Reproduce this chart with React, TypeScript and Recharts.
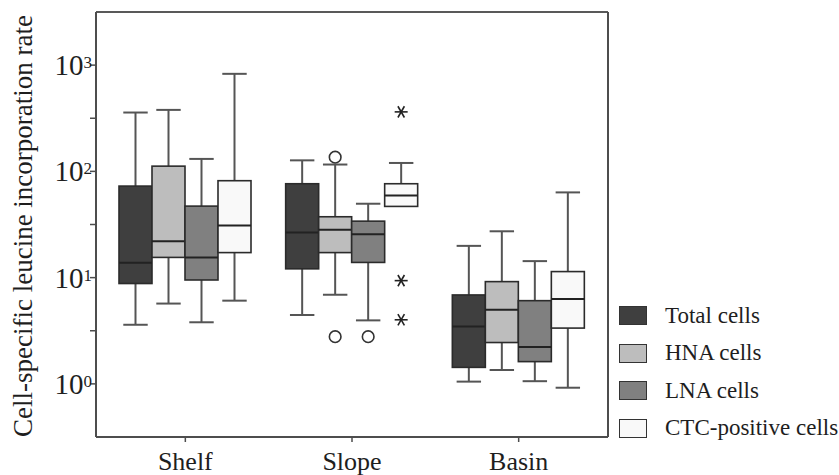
import React from 'react'
import { ComposedChart, Bar, XAxis, YAxis, Legend } from 'recharts'

// five-number summaries: [low whisker, Q1, median, Q3, high whisker]
const groups = ['Shelf', 'Slope', 'Basin']
const seriesNames = ['Total cells', 'HNA cells', 'LNA cells', 'CTC-positive cells']
const seriesKeys = ['total', 'hna', 'lna', 'ctc']
const seriesFills = ['#3f3f3f', '#bdbdbd', '#808080', '#f9f9f9']

const totalStats = [
  [3.6, 8.8, 13.8, 72.7, 358],
  [4.45, 12.1, 26.6, 76.5, 127],
  [1.05, 1.43, 3.47, 6.87, 19.9],
]
const hnaStats = [
  [5.7, 15.5, 22.0, 112, 379],
  [6.9, 17.2, 28.2, 37.4, 116],
  [1.35, 2.45, 4.99, 9.17, 27.3],
]
const lnaStats = [
  [3.8, 9.5, 15.5, 47.1, 131],
  [3.96, 13.9, 25.6, 34.0, 49.6],
  [1.06, 1.62, 2.22, 6.07, 14.3],
]
const ctcStats = [
  [6.07, 17.2, 30.9, 81.7, 828],
  [46.8, 46.8, 59.4, 76.5, 120],
  [0.92, 3.35, 6.3, 11.4, 63.4],
]

// outliers (circles) and extremes (stars), per group
const totalOutliers = [[], [], []]
const hnaOutliers = [[], [136, 2.78], []]
const lnaOutliers = [[], [2.78], []]
const ctcOutliers = [[], [], []]
const totalExtremes = [[], [], []]
const hnaExtremes = [[], [], []]
const lnaExtremes = [[], [], []]
const ctcExtremes = [[], [363, 9.37, 4.01], []]

const yTicks = [1, 3.1623, 10, 31.623, 100, 316.23, 1000]
const yDomain = [0.31623, 3162.3]

const allStats = [totalStats, hnaStats, lnaStats, ctcStats]
const allOutliers = [totalOutliers, hnaOutliers, lnaOutliers, ctcOutliers]
const allExtremes = [totalExtremes, hnaExtremes, lnaExtremes, ctcExtremes]

const data = groups.map((name, g) => {
  const row: any = { name }
  seriesKeys.forEach((k, s) => {
    const [low, q1, med, q3, high] = allStats[s][g]
    row[k] = { low, q1, med, q3, high, out: allOutliers[s][g], ext: allExtremes[s][g] }
  })
  return row
})

const FONT = '"Liberation Serif", "DejaVu Serif", serif'
const INK = '#1e1e1e'
const FRAME = '#4d4d4d'

function BoxShape(props: any) {
  const { x, y, width, height, payload, statsKey, fill } = props
  const s = payload[statsKey]
  const top = Math.min(y, y + height)
  const bottom = Math.max(y, y + height)
  const la = Math.log10(s.high)
  const lb = Math.log10(s.low)
  // position inside the bar's own [low, high] span, on the log axis
  const py = (v: number) => (la === lb ? top : top + ((bottom - top) * (la - Math.log10(v))) / (la - lb))
  const cx = x + width / 2
  const cap = width * 0.37
  const yq3 = py(s.q3)
  const yq1 = py(s.q1)
  const ymed = py(s.med)
  const yHigh = py(s.high)
  const yLow = py(s.low)
  return (
    <g>
      {yHigh < yq3 - 0.5 && (
        <>
          <line x1={cx} x2={cx} y1={yHigh} y2={yq3} stroke="#555" strokeWidth={2} />
          <line x1={cx - cap} x2={cx + cap} y1={yHigh} y2={yHigh} stroke="#555" strokeWidth={2} />
        </>
      )}
      {yLow > yq1 + 0.5 && (
        <>
          <line x1={cx} x2={cx} y1={yq1} y2={yLow} stroke="#555" strokeWidth={2} />
          <line x1={cx - cap} x2={cx + cap} y1={yLow} y2={yLow} stroke="#555" strokeWidth={2} />
        </>
      )}
      <rect x={x} y={yq3} width={width} height={yq1 - yq3} fill={fill} stroke="#2b2b2b" strokeWidth={1.6} />
      <line x1={x} x2={x + width} y1={ymed} y2={ymed} stroke="#222" strokeWidth={2} />
      {s.out.map((v: number, i: number) => (
        <circle key={'o' + i} cx={cx} cy={py(v)} r={5.8} fill="#fff" stroke="#333" strokeWidth={1.6} />
      ))}
      {s.ext.map((v: number, i: number) => {
        const cy = py(v)
        return (
          <g key={'e' + i} stroke="#222" strokeWidth={1.6}>
            {[0, 60, 120].map((a) => {
              const r = 6.5
              const dx = Math.cos((a * Math.PI) / 180) * r
              const dy = Math.sin((a * Math.PI) / 180) * r
              return <line key={a} x1={cx - dx} y1={cy - dy} x2={cx + dx} y2={cy + dy} />
            })}
          </g>
        )
      })}
    </g>
  )
}

function YTick(props: any) {
  const { x, y, payload } = props
  const exp = Math.log10(payload.value)
  if (Math.abs(exp - Math.round(exp)) > 0.01) return null
  return (
    <text x={x + 2} y={y + 10} textAnchor="end" fontFamily={FONT} fontSize={29} fill={INK}>
      <tspan>10</tspan>
      <tspan dy={-7} fontSize={17}>
        {Math.round(exp)}
      </tspan>
    </text>
  )
}

function XTick(props: any) {
  const { x, payload } = props
  return (
    <text x={x} y={470} textAnchor="middle" fontFamily={FONT} fontSize={26} fill={INK}>
      {payload.value}
    </text>
  )
}

function LegendContent() {
  return (
    <div style={{ fontFamily: FONT, fontSize: 23, color: INK }}>
      {seriesNames.map((n, i) => (
        <div key={n} style={{ display: 'flex', alignItems: 'center', height: 37.5, whiteSpace: 'nowrap' }}>
          <span
            style={{
              display: 'inline-block',
              boxSizing: 'border-box',
              width: 28,
              height: 19,
              background: seriesFills[i],
              border: '1.5px solid #333',
              marginRight: 18,
            }}
          />
          {n}
        </div>
      ))}
    </div>
  )
}

export default function App() {
  return (
    <div style={{ position: 'absolute', left: 0, top: 0, width: 839, height: 475, background: '#fff' }}>
      <ComposedChart
        width={839}
        height={475}
        data={data}
        margin={{ top: 11, right: 230, bottom: 0, left: 0 }}
        barGap={0}
        barSize={33}
      >
        <XAxis
          dataKey="name"
          height={38}
          padding={{ left: 6, right: 6 }}
          axisLine={{ stroke: FRAME, strokeWidth: 2 }}
          tickLine={{ stroke: FRAME, strokeWidth: 1.5 }}
          tickSize={5}
          tick={<XTick />}
        />
        <XAxis
          xAxisId="top"
          dataKey="name"
          orientation="top"
          height={1}
          tick={false}
          tickLine={false}
          axisLine={{ stroke: '#222', strokeWidth: 1.5 }}
        />
        <YAxis
          scale="log"
          type="number"
          domain={yDomain}
          allowDataOverflow
          ticks={yTicks}
          interval={0}
          width={96}
          tickSize={6}
          tickMargin={0}
          axisLine={{ stroke: FRAME, strokeWidth: 2 }}
          tickLine={{ stroke: FRAME, strokeWidth: 1.5 }}
          tick={<YTick />}
          label={{
            content: () => (
              <text
                x={23}
                y={226}
                transform="rotate(-90 23 226)"
                textAnchor="middle"
                dominantBaseline="central"
                fontFamily={FONT}
                fontSize={27}
                fill={INK}
              >
                Cell-specific leucine incorporation rate
              </text>
            ),
          }}
        />
        <YAxis
          yAxisId="right"
          orientation="right"
          width={1}
          tick={false}
          tickLine={false}
          axisLine={{ stroke: FRAME, strokeWidth: 2 }}
        />
        {seriesKeys.map((k, i) => (
          <Bar
            key={k}
            name={seriesNames[i]}
            dataKey={(d: any) => [d[k].low, d[k].high]}
            fill={seriesFills[i]}
            isAnimationActive={false}
            shape={(p: any) => <BoxShape {...p} statsKey={k} fill={seriesFills[i]} />}
          />
        ))}
        <Legend
          layout="vertical"
          align="center"
          verticalAlign="middle"
          wrapperStyle={{ left: 619, top: 297, width: 220, height: 150 }}
          content={<LegendContent />}
        />
      </ComposedChart>
    </div>
  )
}
